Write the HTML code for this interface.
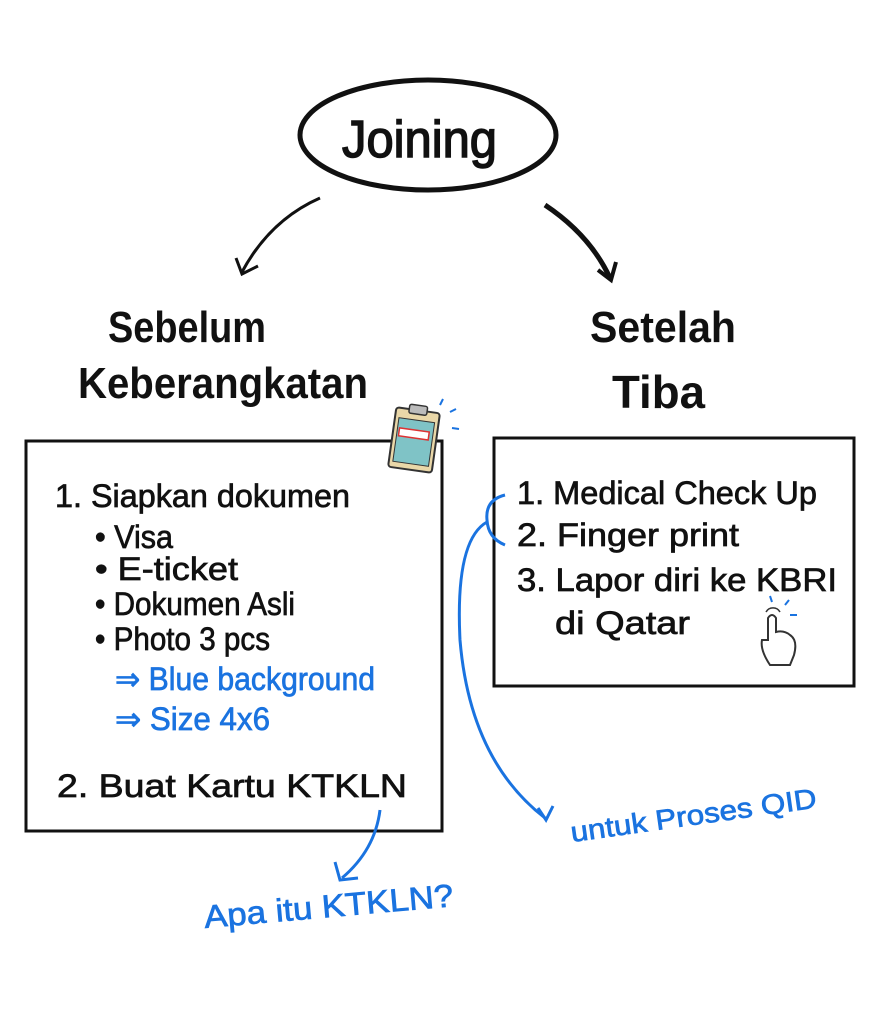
<!DOCTYPE html>
<html><head><meta charset="utf-8"><style>html,body{margin:0;padding:0;background:#fff}svg{display:block}</style></head>
<body>
<svg width="881" height="1023" viewBox="0 0 881 1023" xmlns="http://www.w3.org/2000/svg" font-family="Liberation Sans, sans-serif">
<rect width="881" height="1023" fill="#fff"/>
<ellipse cx="428" cy="135" rx="128" ry="55" fill="none" stroke="#111" stroke-width="5"/>
<text x="342" y="157" font-size="52" fill="#111" stroke="#111" stroke-width="1.5" textLength="155" lengthAdjust="spacingAndGlyphs">Joining</text>
<path d="M320 198 Q270 220 242 272" fill="none" stroke="#111" stroke-width="3"/>
<path d="M236 258 L242 274 L258 266" fill="none" stroke="#111" stroke-width="3"/>
<path d="M545 205 Q590 235 610 278" fill="none" stroke="#111" stroke-width="5"/>
<path d="M598 270 L611 280 L616 262" fill="none" stroke="#111" stroke-width="4"/>
<text x="108" y="342" font-size="44" font-weight="bold" fill="#111" textLength="158" lengthAdjust="spacingAndGlyphs">Sebelum</text>
<text x="78" y="398" font-size="44" font-weight="bold" fill="#111" textLength="290" lengthAdjust="spacingAndGlyphs">Keberangkatan</text>
<text x="590" y="342" font-size="44" font-weight="bold" fill="#111" textLength="146" lengthAdjust="spacingAndGlyphs">Setelah</text>
<text x="612" y="408" font-size="46" font-weight="bold" fill="#111" textLength="93" lengthAdjust="spacingAndGlyphs">Tiba</text>
<rect x="26" y="441" width="416" height="390" fill="none" stroke="#111" stroke-width="3"/>
<rect x="494" y="438" width="360" height="248" fill="none" stroke="#111" stroke-width="3"/>
<g fill="#111" font-size="32" stroke="#111" stroke-width="0.7">
<text x="55" y="507" textLength="295" lengthAdjust="spacingAndGlyphs">1. Siapkan dokumen</text>
<text x="95" y="548" textLength="78" lengthAdjust="spacingAndGlyphs">• Visa</text>
<text x="95" y="580" textLength="143" lengthAdjust="spacingAndGlyphs">• E-ticket</text>
<text x="95" y="615" textLength="200" lengthAdjust="spacingAndGlyphs">• Dokumen Asli</text>
<text x="95" y="650" textLength="175" lengthAdjust="spacingAndGlyphs">• Photo 3 pcs</text>
<text x="57" y="797" textLength="350" lengthAdjust="spacingAndGlyphs">2. Buat Kartu KTKLN</text>
</g>
<g fill="#1a73e0" font-size="32" stroke="#1a73e0" stroke-width="0.7">
<text x="115" y="690" textLength="260" lengthAdjust="spacingAndGlyphs">⇒ Blue background</text>
<text x="115" y="730" textLength="155" lengthAdjust="spacingAndGlyphs">⇒ Size 4x6</text>
</g>
<g fill="#111" font-size="32" stroke="#111" stroke-width="0.7">
<text x="517" y="504" textLength="300" lengthAdjust="spacingAndGlyphs">1. Medical Check Up</text>
<text x="517" y="546" textLength="222" lengthAdjust="spacingAndGlyphs">2. Finger print</text>
<text x="517" y="591" textLength="320" lengthAdjust="spacingAndGlyphs">3. Lapor diri ke KBRI</text>
<text x="555" y="634" textLength="135" lengthAdjust="spacingAndGlyphs">di Qatar</text>
</g>
<path d="M505 495 Q485 500 487 520 Q488 538 505 545" fill="none" stroke="#1a73e0" stroke-width="3"/>
<path d="M487 522 Q455 540 460 640 Q470 760 545 818" fill="none" stroke="#1a73e0" stroke-width="3"/>
<path d="M538 808 L546 820 L553 806" fill="none" stroke="#1a73e0" stroke-width="3"/>
<text x="572" y="842" font-size="28" fill="#1a73e0" stroke="#1a73e0" stroke-width="0.7" transform="rotate(-8 572 842)" textLength="248" lengthAdjust="spacingAndGlyphs">untuk Proses QID</text>
<path d="M380 810 Q375 850 342 878" fill="none" stroke="#1a73e0" stroke-width="3"/>
<path d="M335 862 L340 880 L358 878" fill="none" stroke="#1a73e0" stroke-width="3"/>
<text x="205" y="928" font-size="32" fill="#1a73e0" stroke="#1a73e0" stroke-width="0.7" transform="rotate(-5 205 928)" textLength="250" lengthAdjust="spacingAndGlyphs">Apa itu KTKLN?</text>
<g transform="rotate(8 414 440)">
<rect x="392" y="410" width="44" height="60" rx="3" fill="#e9d7a8" stroke="#333" stroke-width="2"/>
<rect x="396" y="420" width="36" height="44" fill="#7fc3c6" stroke="#333" stroke-width="1"/>
<rect x="405" y="405" width="18" height="9" rx="2" fill="#bbb" stroke="#333" stroke-width="1.5"/>
<rect x="398" y="430" width="30" height="8" fill="#fff" stroke="#d33" stroke-width="1.5"/>
</g>
<path d="M440 405 l3 -6 M450 412 l6 -3 M452 428 l7 1" stroke="#1a73e0" stroke-width="2"/>
<path d="M770 665 Q760 650 762 640 L768 640 L768 618 Q772 612 776 618 L776 632 Q784 630 790 635 Q798 640 794 655 L790 665 Z" fill="#fff" stroke="#333" stroke-width="2"/>
<path d="M766 612 a8 8 0 0 1 14 0" fill="none" stroke="#333" stroke-width="1.5"/>
<path d="M772 602 l-2 -6 M785 605 l4 -5 M790 615 l7 0" stroke="#1a73e0" stroke-width="2"/>
</svg>
</body></html>
